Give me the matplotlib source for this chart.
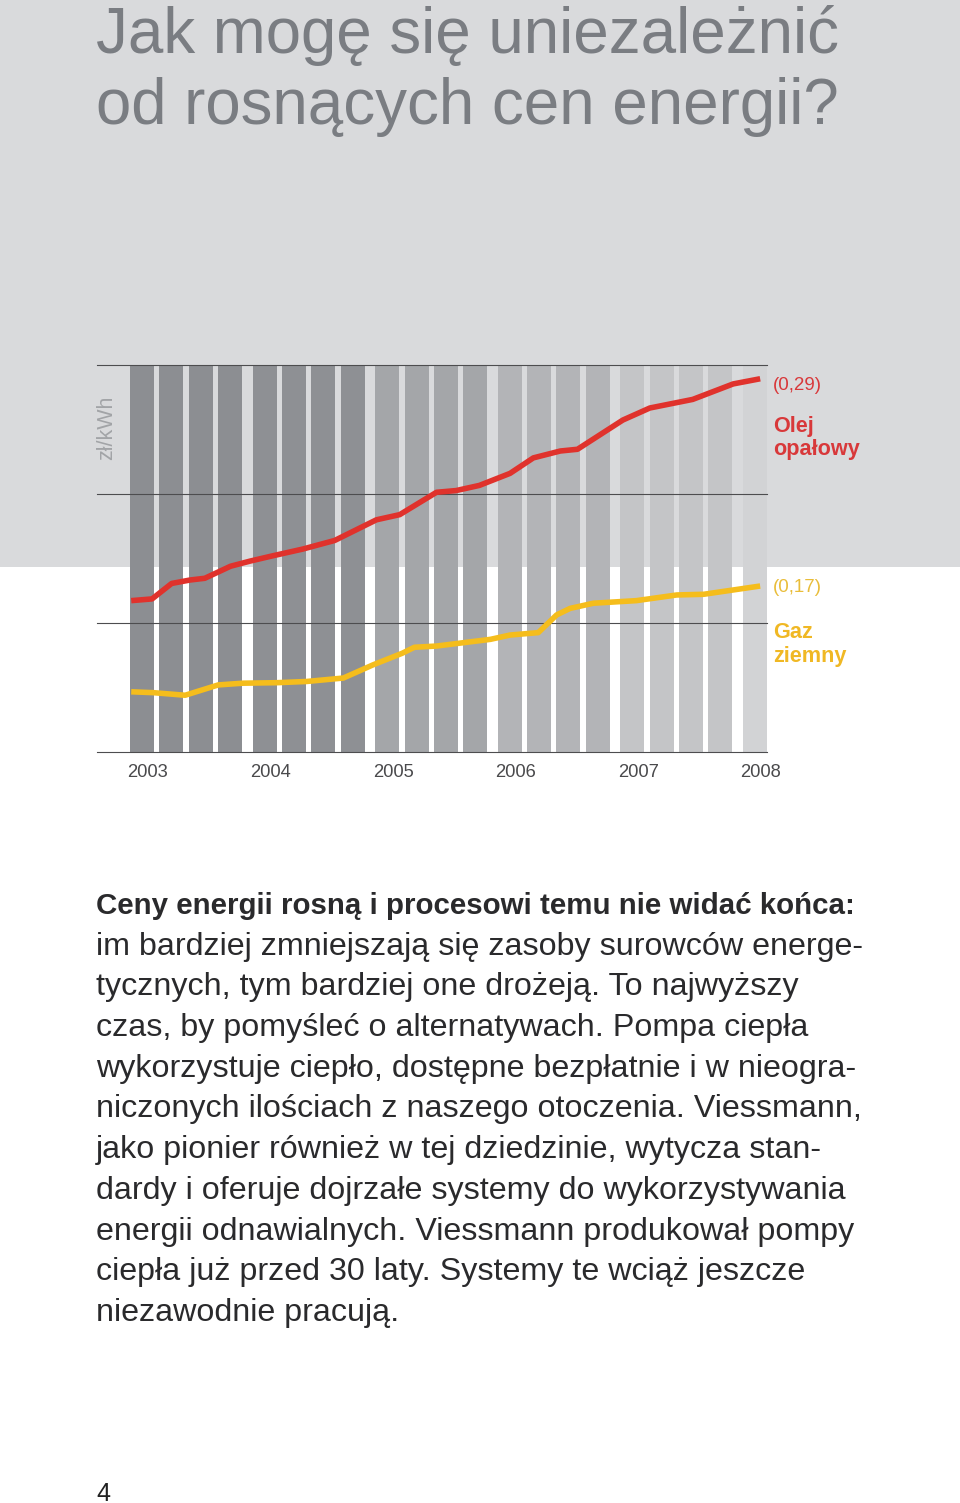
import matplotlib
matplotlib.use("Agg")
import matplotlib.pyplot as plt
from matplotlib.patches import Rectangle
from matplotlib.transforms import blended_transform_factory

# ---------------- data ----------------
years = [2003, 2004, 2005, 2006, 2007, 2008]
year_labels = ["2003", "2004", "2005", "2006", "2007", "2008"]
quarters_per_year = [4, 4, 4, 4, 4, 1]
year_bar_colors = ["#8c8e92", "#8e9094", "#a4a6a9", "#b3b4b7", "#c4c5c7", "#d2d3d5"]

oil_t = [2003.01, 2003.18, 2003.34, 2003.49, 2003.61, 2003.82, 2003.98, 2004.16,
         2004.41, 2004.67, 2005.01, 2005.20, 2005.50, 2005.66, 2005.85, 2006.10,
         2006.29, 2006.51, 2006.65, 2007.02, 2007.24, 2007.59, 2007.92, 2008.14]
oil_v = [0.163, 0.164, 0.173, 0.175, 0.176, 0.183, 0.186, 0.189,
         0.193, 0.198, 0.210, 0.213, 0.226, 0.227, 0.230, 0.237,
         0.246, 0.250, 0.251, 0.268, 0.275, 0.280, 0.289, 0.292]

gas_t = [2003.01, 2003.19, 2003.45, 2003.72, 2003.92, 2004.20, 2004.44, 2004.74,
         2004.98, 2005.22, 2005.32, 2005.50, 2005.68, 2005.94, 2006.10, 2006.33,
         2006.48, 2006.59, 2006.78, 2007.13, 2007.46, 2007.68, 2008.14]
gas_v = [0.110, 0.1095, 0.108, 0.114, 0.115, 0.1153, 0.116, 0.118,
         0.1256, 0.1324, 0.1359, 0.1366, 0.1382, 0.1405, 0.143, 0.1444,
         0.1547, 0.1585, 0.1615, 0.163, 0.1663, 0.1667, 0.1715]

oil_label = "(0,29)"
gas_label = "(0,17)"
oil_name = ["Olej", "opałowy"]
gas_name = ["Gaz", "ziemny"]
unit_label = "zł/kWh"
grid_values = [0.075, 0.15, 0.225, 0.30]

title_lines = ["Jak mogę się uniezależnić", "od rosnących cen energii?"]
body_bold = "Ceny energii rosną i procesowi temu nie widać końca:"
body_lines = [
    "im bardziej zmniejszają się zasoby surowców energe-",
    "tycznych, tym bardziej one drożeją. To najwyższy",
    "czas, by pomyśleć o alternatywach. Pompa ciepła",
    "wykorzystuje ciepło, dostępne bezpłatnie i w nieogra-",
    "niczonych ilościach z naszego otoczenia. Viessmann,",
    "jako pionier również w tej dziedzinie, wytycza stan-",
    "dardy i oferuje dojrzałe systemy do wykorzystywania",
    "energii odnawialnych. Viessmann produkował pompy",
    "ciepła już przed 30 laty. Systemy te wciąż jeszcze",
    "niezawodnie pracują.",
]
page_number = "4"

# ---------------- layout ----------------
W, H = 960, 1503
fig = plt.figure(figsize=(W / 100, H / 100), dpi=100)
fig.patch.set_facecolor("white")

def fx(x):
    return x / W

def fy(y):
    return 1 - y / H

FONT = ["Liberation Sans", "DejaVu Sans"]
BG = "#d9dadc"
bg = Rectangle((0, fy(567)), 1, 567 / H, transform=fig.transFigure,
               facecolor=BG, edgecolor="none", zorder=-10)
fig.patches.append(bg)

# title
TITLE_C = "#7a7d82"
fig.text(fx(96), fy(53), title_lines[0], fontsize=45.8, color=TITLE_C,
         family=FONT, va="baseline", ha="left")
fig.text(fx(96), fy(124), title_lines[1], fontsize=45.8, color=TITLE_C,
         family=FONT, va="baseline", ha="left")

# chart axes
px_per_year = 122.6
x0_px = 130
def px2yr(p):
    return 2003 + (p - x0_px) / px_per_year

ax_l, ax_r, ax_t, ax_b = 97, 767, 365, 752
ax = fig.add_axes([fx(ax_l), fy(ax_b), (ax_r - ax_l) / W, (ax_b - ax_t) / H])
ax.set_zorder(1)
ax.patch.set_visible(False)
ax.set_xlim(px2yr(ax_l), px2yr(ax_r))
ax.set_ylim(grid_values[0], grid_values[-1])
ax.axis("off")

bar_pitch = 29.3 / px_per_year
bar_w = 24 / px_per_year
for yr, nq, col in zip(years, quarters_per_year, year_bar_colors):
    xs = [yr + q * bar_pitch for q in range(nq)]
    ax.bar(xs, [grid_values[-1] - grid_values[0]] * nq, width=bar_w,
           bottom=grid_values[0], align="edge", color=col, edgecolor="none", zorder=1)

for gv in grid_values:
    ax.axhline(gv, color="#4d4d4f", lw=0.8, zorder=2, clip_on=False)

RED = "#e0322c"
YEL = "#f5bd1c"
ax.plot(oil_t, oil_v, color=RED, lw=4.0, zorder=3, solid_capstyle="butt",
        solid_joinstyle="round", clip_on=False)
ax.plot(gas_t, gas_v, color=YEL, lw=4.0, zorder=3, solid_capstyle="butt",
        solid_joinstyle="round", clip_on=False)

# year labels
trans = blended_transform_factory(ax.transData, fig.transFigure)
for yr, lab in zip(years, year_labels):
    ax.text(yr + 18 / px_per_year, fy(777), lab, transform=trans, ha="center",
            va="baseline", fontsize=13.2, color="#4a4a4c", family=FONT)

# unit label
fig.text(fx(107), fy(428), unit_label, rotation=90, ha="center", va="center",
         fontsize=15.5, color="#a2a4a7", family=FONT)

# series labels
lx = fx(773)
fig.text(lx, fy(390), oil_label, fontsize=13.5, color="#d8383a", family=FONT,
         va="baseline")
fig.text(lx, fy(432), oil_name[0], fontsize=15.6, color="#d8383a", family=FONT,
         weight="bold", va="baseline")
fig.text(lx, fy(455), oil_name[1], fontsize=15.6, color="#d8383a", family=FONT,
         weight="bold", va="baseline")
fig.text(lx, fy(592), gas_label, fontsize=13.5, color="#e9bd3a", family=FONT,
         va="baseline")
fig.text(lx, fy(638), gas_name[0], fontsize=15.6, color="#f0b824", family=FONT,
         weight="bold", va="baseline")
fig.text(lx, fy(662), gas_name[1], fontsize=15.6, color="#f0b824", family=FONT,
         weight="bold", va="baseline")

# body text
BODY_C = "#2a2a2c"
base0 = 914
step = 40.7
fig.text(fx(96), fy(base0), body_bold, fontsize=21.25, weight="bold", color=BODY_C,
         family=FONT, va="baseline")
for i, line in enumerate(body_lines):
    fig.text(fx(96), fy(base0 + step * (i + 1)), line, fontsize=23.2, color=BODY_C,
             family=FONT, va="baseline")

fig.text(fx(96), fy(1501), page_number, fontsize=18, color="#222222",
         family=FONT, va="baseline")

fig.savefig("out.png", dpi=100, facecolor="white")
